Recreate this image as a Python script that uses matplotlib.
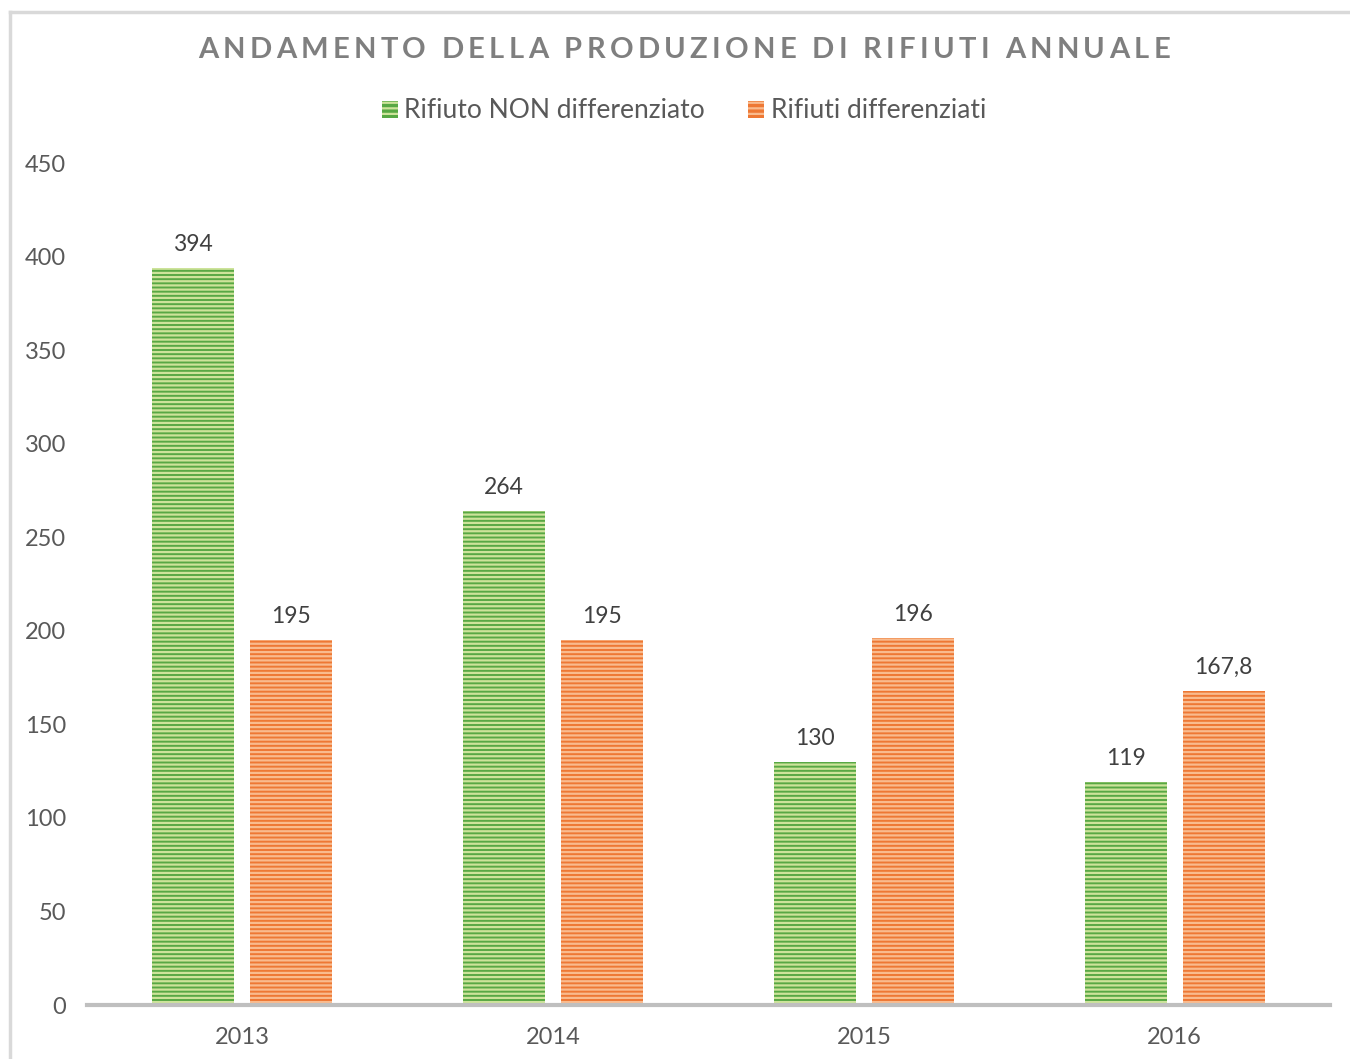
import matplotlib
matplotlib.use("Agg")
import matplotlib.pyplot as plt
import numpy as np
from matplotlib.lines import Line2D
from matplotlib.patches import Patch
from matplotlib import font_manager
from matplotlib.ft2font import FT2Font

years = ["2013", "2014", "2015", "2016"]
non_diff = [394, 264, 130, 119]
diff = [195, 195, 196, 167.8]
non_diff_labels = ["394", "264", "130", "119"]
diff_labels = ["195", "195", "196", "167,8"]
series_names = ["Rifiuto NON differenziato", "Rifiuti differenziati"]
yticks = [0, 50, 100, 150, 200, 250, 300, 350, 400, 450]
title = "ANDAMENTO DELLA PRODUZIONE DI RIFIUTI ANNUALE"

plt.rcParams['font.family'] = ['Lato', 'DejaVu Sans']
plt.rcParams['hatch.linewidth'] = 1.6

W, H, DPI = 1350, 1059, 100
fig = plt.figure(figsize=(W/DPI, H/DPI), dpi=DPI)
ax = fig.add_axes([87/W, 1 - 1005/H, (1330-87)/W, (1005-163)/H])

x = np.arange(len(years))
w = 0.264
off = 0.158
green_face, green_hatch = "#58a844", "#cde39a"
orange_face, orange_hatch = "#ee7834", "#f9bb8e"

b1 = ax.bar(x - off, non_diff, w, color=green_face, edgecolor=green_hatch,
            hatch="----", linewidth=0)
b2 = ax.bar(x + off, diff, w, color=orange_face, edgecolor=orange_hatch,
            hatch="----", linewidth=0)

for rect, lab in zip(b1, non_diff_labels):
    ax.text(rect.get_x() + rect.get_width()/2, rect.get_height() + 7, lab,
            ha="center", va="bottom", fontsize=16.5, color="#404040")
for rect, lab in zip(b2, diff_labels):
    ax.text(rect.get_x() + rect.get_width()/2, rect.get_height() + 7, lab,
            ha="center", va="bottom", fontsize=16.5, color="#404040")

ax.set_xlim(-0.5, 3.5)
ax.set_ylim(0, 450)
ax.set_yticks(yticks)
ax.set_yticklabels([str(v) for v in yticks])
ax.set_xticks(x)
ax.set_xticklabels(years)
ax.tick_params(axis="y", length=0, pad=15, labelsize=17, labelcolor="#595959")
ax.tick_params(axis="x", length=0, pad=16, labelsize=17, labelcolor="#595959")
for s in ["top", "right", "left"]:
    ax.spines[s].set_visible(False)
ax.spines["bottom"].set_color("#bfbfbf")
ax.spines["bottom"].set_linewidth(3)

# title with letter spacing (tracking), drawn character by character
title_size = 21
fp = font_manager.FontProperties(family="Lato", weight="bold", size=title_size)
ft = FT2Font(font_manager.findfont(fp))
ft.set_size(title_size, DPI)
adv = []
for c in title:
    g = ft.load_char(ord(c))
    adv.append(g.linearHoriAdvance / 65536.0)
x_start, x_end = 198.0, 1170.0
track = ((x_end - x_start) - sum(adv)) / (len(title) - 1)
cx = x_start
for c, a in zip(title, adv):
    if c != " ":
        fig.text(cx / W, 1 - 50 / H, c, ha="left", va="center",
                 fontproperties=fp, color="#7f7f7f")
    cx += a + track

handles = [Patch(facecolor=green_face, edgecolor=green_hatch, hatch="---", linewidth=0),
           Patch(facecolor=orange_face, edgecolor=orange_hatch, hatch="---", linewidth=0)]
leg = fig.legend(handles, series_names, loc="center", bbox_to_anchor=(684/W, 1 - 111/H),
                 ncol=2, frameon=False, fontsize=19, handlelength=0.6, handleheight=0.6,
                 handletextpad=0.25, columnspacing=1.65, labelcolor="#595959")

# outer border (partial frame)
fig.add_artist(Line2D([10/W, 10/W], [0, 1 - 12/H], color="#d9d9d9", lw=2.5))
fig.add_artist(Line2D([10/W, 1], [1 - 12/H, 1 - 12/H], color="#d9d9d9", lw=2.5))

fig.savefig("out.png", dpi=DPI, facecolor="white")
